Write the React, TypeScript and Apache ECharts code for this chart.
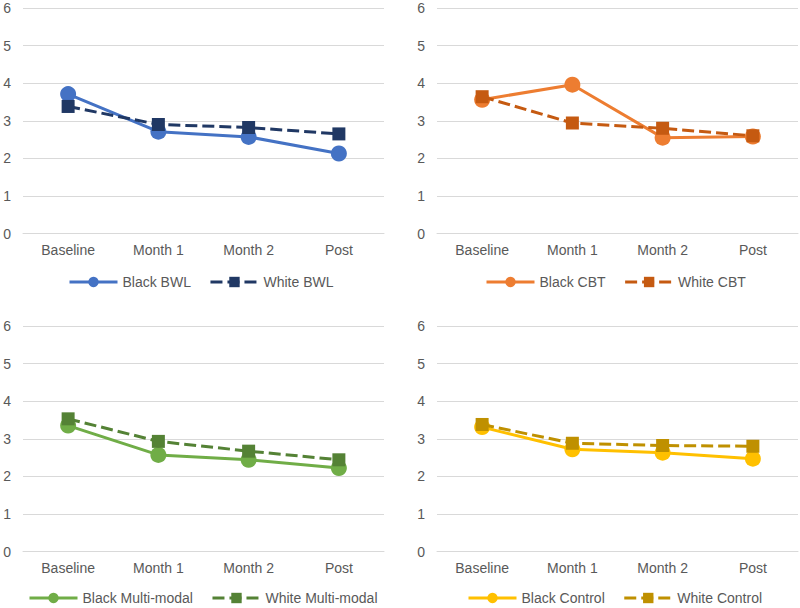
import React, { useEffect, useRef } from "react";
import * as echarts from "echarts";

const categories = ["Baseline", "Month 1", "Month 2", "Post"];
const yTicks = [0, 1, 2, 3, 4, 5, 6];

const blackBWL = [3.71, 2.71, 2.57, 2.13];
const whiteBWL = [3.38, 2.9, 2.82, 2.65];
const blackCBT = [3.56, 3.96, 2.55, 2.58];
const whiteCBT = [3.64, 2.94, 2.8, 2.6];
const blackMulti = [3.35, 2.57, 2.44, 2.22];
const whiteMulti = [3.53, 2.93, 2.67, 2.44];
const blackControl = [3.31, 2.72, 2.63, 2.47];
const whiteControl = [3.38, 2.88, 2.82, 2.8];

const panels = [
  { black: "Black BWL", white: "White BWL", bData: blackBWL, wData: whiteBWL, bColor: "#4472C4", wColor: "#203864" },
  { black: "Black CBT", white: "White CBT", bData: blackCBT, wData: whiteCBT, bColor: "#ED7D31", wColor: "#C55A11" },
  { black: "Black Multi-modal", white: "White Multi-modal", bData: blackMulti, wData: whiteMulti, bColor: "#70AD47", wColor: "#548235" },
  { black: "Black Control", white: "White Control", bData: blackControl, wData: whiteControl, bColor: "#FFC000", wColor: "#BF9000" },
];

const layout = [
  { left: 23, top: 8, legendLeft: 68, legendTop: 275 },
  { left: 437, top: 8, legendLeft: 485, legendTop: 275 },
  { left: 23, top: 326, legendLeft: 28, legendTop: 591 },
  { left: 437, top: 326, legendLeft: 467, legendTop: 591 },
];

const FONT = "Arial, 'Liberation Sans', sans-serif";
const TEXT = "#595959";

export default function App() {
  const ref = useRef<HTMLDivElement>(null);
  useEffect(() => {
    if (!ref.current) return;
    const chart = echarts.init(ref.current, null, { renderer: "svg" });
    const grids: any[] = [];
    const xAxes: any[] = [];
    const yAxes: any[] = [];
    const series: any[] = [];
    const legends: any[] = [];
    panels.forEach((p, i) => {
      const l = layout[i];
      grids.push({ left: l.left, top: l.top, width: 361, height: 225.5 });
      xAxes.push({
        type: "category",
        gridIndex: i,
        data: categories,
        boundaryGap: true,
        axisLine: { show: true, lineStyle: { color: "#D9D9D9", width: 1 } },
        axisTick: { show: false },
        axisLabel: { color: TEXT, fontSize: 14, fontFamily: FONT, margin: 9 },
      });
      yAxes.push({
        type: "value",
        gridIndex: i,
        min: yTicks[0],
        max: yTicks[yTicks.length - 1],
        interval: 1,
        axisLine: { show: false },
        axisTick: { show: false },
        splitLine: { lineStyle: { color: "#D9D9D9", width: 1 } },
        axisLabel: { color: TEXT, fontSize: 14, fontFamily: FONT, margin: 12 },
      });
      series.push({
        name: p.black,
        type: "line",
        xAxisIndex: i,
        yAxisIndex: i,
        data: p.bData,
        symbol: "circle",
        symbolSize: 16,
        lineStyle: { color: p.bColor, width: 3 },
        itemStyle: { color: p.bColor },
        z: 2,
      });
      series.push({
        name: p.white,
        type: "line",
        xAxisIndex: i,
        yAxisIndex: i,
        data: p.wData,
        symbol: "rect",
        symbolSize: 13,
        lineStyle: { color: p.wColor, width: 3, type: [12, 5] },
        itemStyle: { color: p.wColor },
        z: 3,
      });
      legends.push({
        data: [p.black, p.white],
        left: l.legendLeft,
        top: l.legendTop,
        width: 390,
        padding: 0,
        itemWidth: 48,
        itemHeight: 13,
        itemGap: 18,
        lineStyle: { width: 3 },
        textStyle: { color: TEXT, fontSize: 14, fontFamily: FONT },
      });
    });
    chart.setOption({
      animation: false,
      backgroundColor: "#ffffff",
      grid: grids,
      xAxis: xAxes,
      yAxis: yAxes,
      series,
      legend: legends,
    });
    return () => chart.dispose();
  }, []);
  return (
    <div
      ref={ref}
      style={{ position: "fixed", left: 0, top: 0, width: 800, height: 608, background: "#fff" }}
    />
  );
}
